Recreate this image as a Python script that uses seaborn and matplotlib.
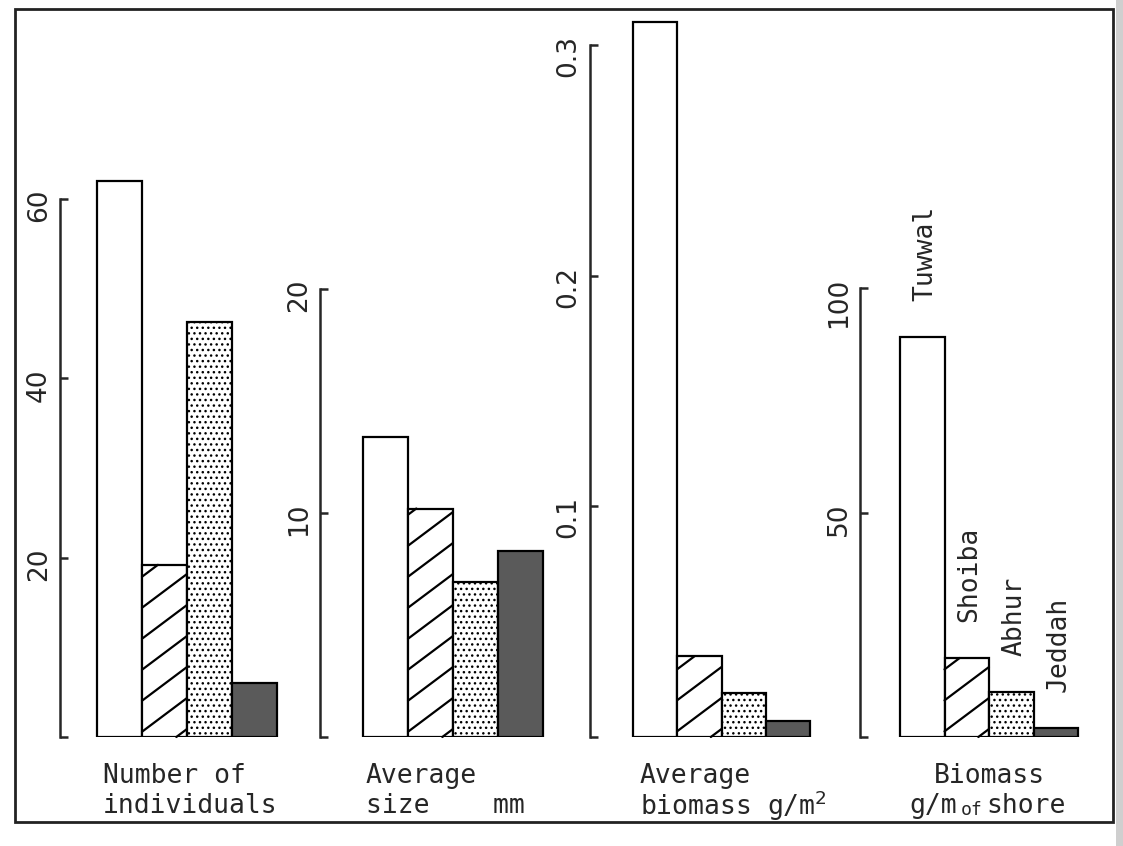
import numpy as np
import pandas as pd
import seaborn as sns
import matplotlib.pyplot as plt
from matplotlib.patches import Rectangle
from matplotlib.lines import Line2D
from matplotlib.transforms import IdentityTransform

# data
sites = ['Tuwwal', 'Shoiba', 'Abhur', 'Jeddah']
n_individuals = [62.0, 19.2, 46.3, 6.0]
avg_size = [13.4, 10.2, 6.9, 8.3]
avg_biomass = [0.310, 0.035, 0.019, 0.007]
biomass_shore = [89.0, 17.6, 10.1, 2.0]

ticks_individuals = [0, 20, 40, 60]
ticks_size = [0, 10, 20]
ticks_biomass = [0, 0.1, 0.2, 0.3]
ticks_shore = [0, 50, 100]

W, H = 1123, 846
BASE = 737   # pixel row of the bar baseline
TOP = 5

sns.set_style('white')
plt.rcParams['font.family'] = ['DejaVu Sans Mono', 'DejaVu Sans']
plt.rcParams['hatch.linewidth'] = 1.0

fig = plt.figure(figsize=(W / 100, H / 100), dpi=100)
fig.patch.set_facecolor('white')


def px_axes(left, right, top, bottom):
    return fig.add_axes([left / W, 1 - bottom / H, (right - left) / W, (bottom - top) / H])


def add_hatch(ax, bar, spacing=31, slope=0.75):
    """diagonal hatch drawn by hand (built in '/' is far too dense),
    each line cut to the bar rectangle"""
    x0, y0 = ax.transData.transform((bar.get_x(), 0))
    x1, y1 = ax.transData.transform((bar.get_x() + bar.get_width(), bar.get_height()))
    rise = slope * (x1 - x0)
    for c in np.arange(y0 - rise + 8, y1, spacing):
        xa = max(x0, x0 + (y0 - c) / slope)
        xb = min(x1, x0 + (y1 - c) / slope)
        if xb <= xa:
            continue
        ln = Line2D([xa, xb], [c + slope * (xa - x0), c + slope * (xb - x0)],
                    color='black', lw=1.6, transform=IdentityTransform())
        ln.set_clip_on(False)
        ax.add_line(ln)


def panel(values, ticks, labels, spine_x, bar_left, bar_right, tick_y):
    ax = px_axes(spine_x, bar_right + 4, TOP, BASE)
    df = pd.DataFrame({'site': sites, 'value': values})
    sns.barplot(data=df, x='site', y='value', ax=ax, width=1, color='white',
                saturation=1, edgecolor='black', linewidth=1.6, errorbar=None)
    bars = ax.patches
    bars[2].set_hatch('...')
    bars[3].set_facecolor('#5a5a5a')

    w = (bar_right - bar_left) / 4
    ax.set_xlim(-0.5 - (bar_left - spine_x) / w, 3.5 + 4 / w)
    ax.set_ylim(0, ticks[-1] * (BASE - TOP) / (BASE - tick_y))

    for s in ['top', 'right', 'bottom']:
        ax.spines[s].set_visible(False)
    ax.spines['left'].set_bounds(0, ticks[-1])
    ax.spines['left'].set_linewidth(1.8)
    ax.set_yticks(ticks)
    ax.set_yticklabels(labels, family='DejaVu Sans')
    ax.tick_params(axis='y', direction='in', length=6, width=1.8, pad=6,
                   labelsize=19, labelrotation=90, left=True)
    ax.set_xticks([])
    ax.set_xlabel('')
    ax.set_ylabel('')
    ax.patch.set_visible(False)

    add_hatch(ax, bars[1])
    return ax


panel(n_individuals, ticks_individuals, ['', '20', '40', '60'], 60, 97, 277, 199)
panel(avg_size, ticks_size, ['', '10', '20'], 320, 363, 543, 289)
panel(avg_biomass, ticks_biomass, ['', '0.1', '0.2', '0.3'], 590, 633, 810, 45)
ax4 = panel(biomass_shore, ticks_shore, ['', '50', '100'], 860, 900, 1078, 288)

for i, (s, v) in enumerate(zip(sites, biomass_shore)):
    ax4.annotate(s, xy=(i, v), xytext=(2, 26), textcoords='offset points',
                 rotation=90, ha='center', va='bottom', fontsize=19)

# captions under each panel
captions = [
    (103, 'Number of', 'individuals'),
    (366, 'Average', 'size    mm'),
    (640, 'Average', 'biomass g/m$^2$'),
]
for x, l1, l2 in captions:
    fig.text(x / W, 1 - 776 / H, l1, ha='left', va='center', fontsize=19)
    fig.text(x / W, 1 - 806 / H, l2, ha='left', va='center', fontsize=19)

fig.text(934 / W, 1 - 776 / H, 'Biomass', ha='left', va='center', fontsize=19)
t1 = fig.text(909 / W, 1 - 806 / H, 'g/m', ha='left', va='center', fontsize=19)
t2 = ax4.annotate('of', xy=(1, 0), xycoords=t1, xytext=(3, 0), textcoords='offset points',
                  ha='left', va='bottom', fontsize=13)
ax4.annotate('shore', xy=(1, 0), xycoords=t2, xytext=(3, 0), textcoords='offset points',
             ha='left', va='bottom', fontsize=19)

# frame round the plate and the grey scan edge
fig.add_artist(Rectangle((15 / W, 1 - 822 / H), (1113 - 15) / W, (822 - 9) / H,
                         transform=fig.transFigure, fill=False, lw=2, color='#222222'))
fig.add_artist(Rectangle((1116 / W, 0), 7 / W, 1, transform=fig.transFigure,
                         color='#cfcfcf', lw=0))

fig.savefig('out.png', dpi=100)
